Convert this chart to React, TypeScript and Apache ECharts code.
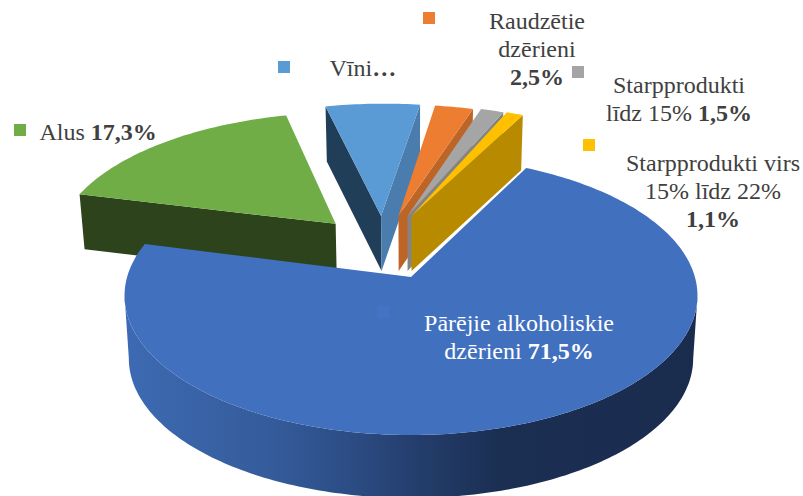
import React, { useEffect, useRef } from "react";
import * as echarts from "echarts";

// ---- data ----
const categories = [
  "Alus",
  "Vīni",
  "Raudzētie dzērieni",
  "Starpprodukti līdz 15%",
  "Starpprodukti virs 15% līdz 22%",
  "Pārējie alkoholiskie dzērieni",
];
const shares = [17.3, 6.1, 2.5, 1.5, 1.1, 71.5];

// ---- styles ----
const topColors = ["#70AD47", "#5B9BD5", "#ED7D31", "#A5A5A5", "#FFC000", "#4170BF"];
const keyColors = ["#70AD47", "#5B9BD5", "#ED7D31", "#A5A5A5", "#FFC000", "#4472C4"];
const startWallColors = ["#2C431B", "#213E58", "#BD6427", "#848484", "#B88A00", "#2F5597"];
const endWallColors = ["#2C431B", "#4A7DAE", "#BD6427", "#848484", "#B88A00", "#2F5597"];
const explodeU = [-0.28, -0.112, -0.047, -0.013, 0.002, 0];
const explodeV = [-0.41, -0.474, -0.474, -0.474, -0.474, 0];
const rimRadius = [1.02, 1.05, 1.04, 1.04, 1.04, 1];
const angleShift = [-0.7, -0.7, -0.7, -0.7, -0.7, -0.3];
const START_ANGLE = 284.7;

// ---- projection of the pie's disc on the page ----
const CX = 411;
const CY = 277;
const A = 283.9;
const B = 136.9;
const K = 0.1335;
const WALL_DEPTH = 55;
const RIM_DEPTH = 63;
const BOTTOM_SCALE = 0.985;

const project = (u: number, v: number): [number, number] => {
  const w = 1 - K * v;
  return [CX + (A * u) / w, CY + (B * v) / w];
};
const drop = (p: [number, number], depth: number): [number, number] => [
  CX + (p[0] - CX) * BOTTOM_SCALE,
  p[1] + depth,
];

function renderSlice(params: any, api: any) {
  const i = params.dataIndex;
  const total = shares.reduce((s, x) => s + x, 0);
  const before = shares.slice(0, i).reduce((s, x) => s + x, 0);
  const start = START_ANGLE + angleShift[i] + (before / total) * 360;
  const end = start + (api.value(0) / total) * 360;
  const ou = explodeU[i];
  const ov = explodeV[i];
  const r = rimRadius[i];
  const rim = (deg: number) => {
    const a = (deg * Math.PI) / 180;
    return project(ou + r * Math.sin(a), ov - r * Math.cos(a));
  };
  const apex = project(ou, ov);
  const arc: [number, number][] = [];
  const steps = Math.max(4, Math.ceil(end - start));
  for (let s = 0; s <= steps; s++) arc.push(rim(start + ((end - start) * s) / steps));
  const first = arc[0];
  const last = arc[arc.length - 1];
  const children: any[] = [];

  const wall = (outer: [number, number], fill: string) => ({
    type: "polygon",
    shape: {
      points: [apex, outer, drop(outer, WALL_DEPTH), drop(apex, WALL_DEPTH)],
    },
    style: { fill },
  });
  if (first[0] < apex[0]) children.push(wall(first, startWallColors[i]));
  if (last[0] > apex[0]) children.push(wall(last, endWallColors[i]));

  // outer wall: only the part between the two silhouette points of the disc
  const crossesFront = start <= 180 + 360 * Math.floor(end / 360) && end >= 180 + 360 * Math.floor(end / 360);
  if (crossesFront) {
    let iMax = 0;
    let iMin = 0;
    arc.forEach((p, n) => {
      if (p[0] > arc[iMax][0]) iMax = n;
      if (p[0] < arc[iMin][0]) iMin = n;
    });
    const front = arc.slice(Math.min(iMax, iMin), Math.max(iMax, iMin) + 1);
    const bottom = front.map((p) => drop(p, RIM_DEPTH)).reverse();
    children.push({
      type: "polygon",
      shape: { points: [...front, ...bottom] },
      style: {
        fill: new echarts.graphic.LinearGradient(0, 0, 1, 0, [
          { offset: 0, color: "#3D6AB3" },
          { offset: 0.25, color: "#355C9B" },
          { offset: 0.39, color: "#2C4D85" },
          { offset: 0.51, color: "#243E6C" },
          { offset: 0.65, color: "#1B2F53" },
          { offset: 1, color: "#1A2C4E" },
        ]),
      },
    });
  }

  children.push({
    type: "polygon",
    shape: { points: [apex, ...arc] },
    style: { fill: topColors[i] },
  });
  return { type: "group", children };
}

// ---- labels ----
const pct = (i: number) => shares[i].toFixed(1).replace(".", ",") + "%";
const labelTexts = [
  `{n|Alus }{v|${pct(0)}}`,
  `{n|Vīni}{v|…}`,
  `{n|Raudzētie}\n{n|dzērieni}\n{v|${pct(2)}}`,
  `{n|Starpprodukti}\n{n|līdz 15% }{v|${pct(3)}}`,
  `{n|Starpprodukti virs}\n{n|15% līdz 22%}\n{v|${pct(4)}}`,
  `{n|Pārējie alkoholiskie}\n{n|dzērieni }{v|${pct(5)}}`,
];
const labelX = [39.5, 329.5, 537, 679, 713, 519];
const labelY = [132, 68, 49, 99, 191, 337];
const labelAlign = ["left", "left", "center", "center", "center", "center"];
const labelColor = ["#404040", "#404040", "#404040", "#404040", "#404040", "#FFFFFF"];
const keyX = [14, 278, 423, 572, 583, 377];
const keyY = [124, 61, 12, 66, 139, 306];
const FONT = '"Liberation Serif", "Times New Roman", serif';
const FONT_SIZE = 24;

export default function App() {
  const ref = useRef<HTMLDivElement>(null);
  useEffect(() => {
    const chart = echarts.init(ref.current!, undefined, { renderer: "svg" });
    const keys = keyColors.map((fill, i) => ({
      type: "rect",
      z: 10,
      shape: { x: keyX[i], y: keyY[i], width: 12, height: 12 },
      style: { fill },
    }));
    const labels = labelTexts.map((text, i) => {
      const base = { fontFamily: FONT, fontSize: FONT_SIZE, lineHeight: 28, fill: labelColor[i] };
      return {
        type: "text",
        z: 11,
        x: labelX[i],
        y: labelY[i],
        style: {
          text,
          textAlign: labelAlign[i],
          textVerticalAlign: "middle",
          fontFamily: FONT,
          fontSize: FONT_SIZE,
          fill: labelColor[i],
          rich: {
            n: { ...base },
            v: { ...base, fontWeight: "bold" },
          },
        },
      };
    });
    chart.setOption({
      animation: false,
      backgroundColor: "#FFFFFF",
      series: [
        {
          type: "custom",
          coordinateSystem: "none",
          silent: true,
          renderItem: renderSlice,
          data: shares.map((value, i) => ({ name: categories[i], value })),
        },
      ],
      graphic: [...keys, ...labels],
    });
    return () => chart.dispose();
  }, []);
  return (
    <div
      ref={ref}
      style={{ position: "absolute", left: 0, top: 0, width: 803, height: 496 }}
    />
  );
}
